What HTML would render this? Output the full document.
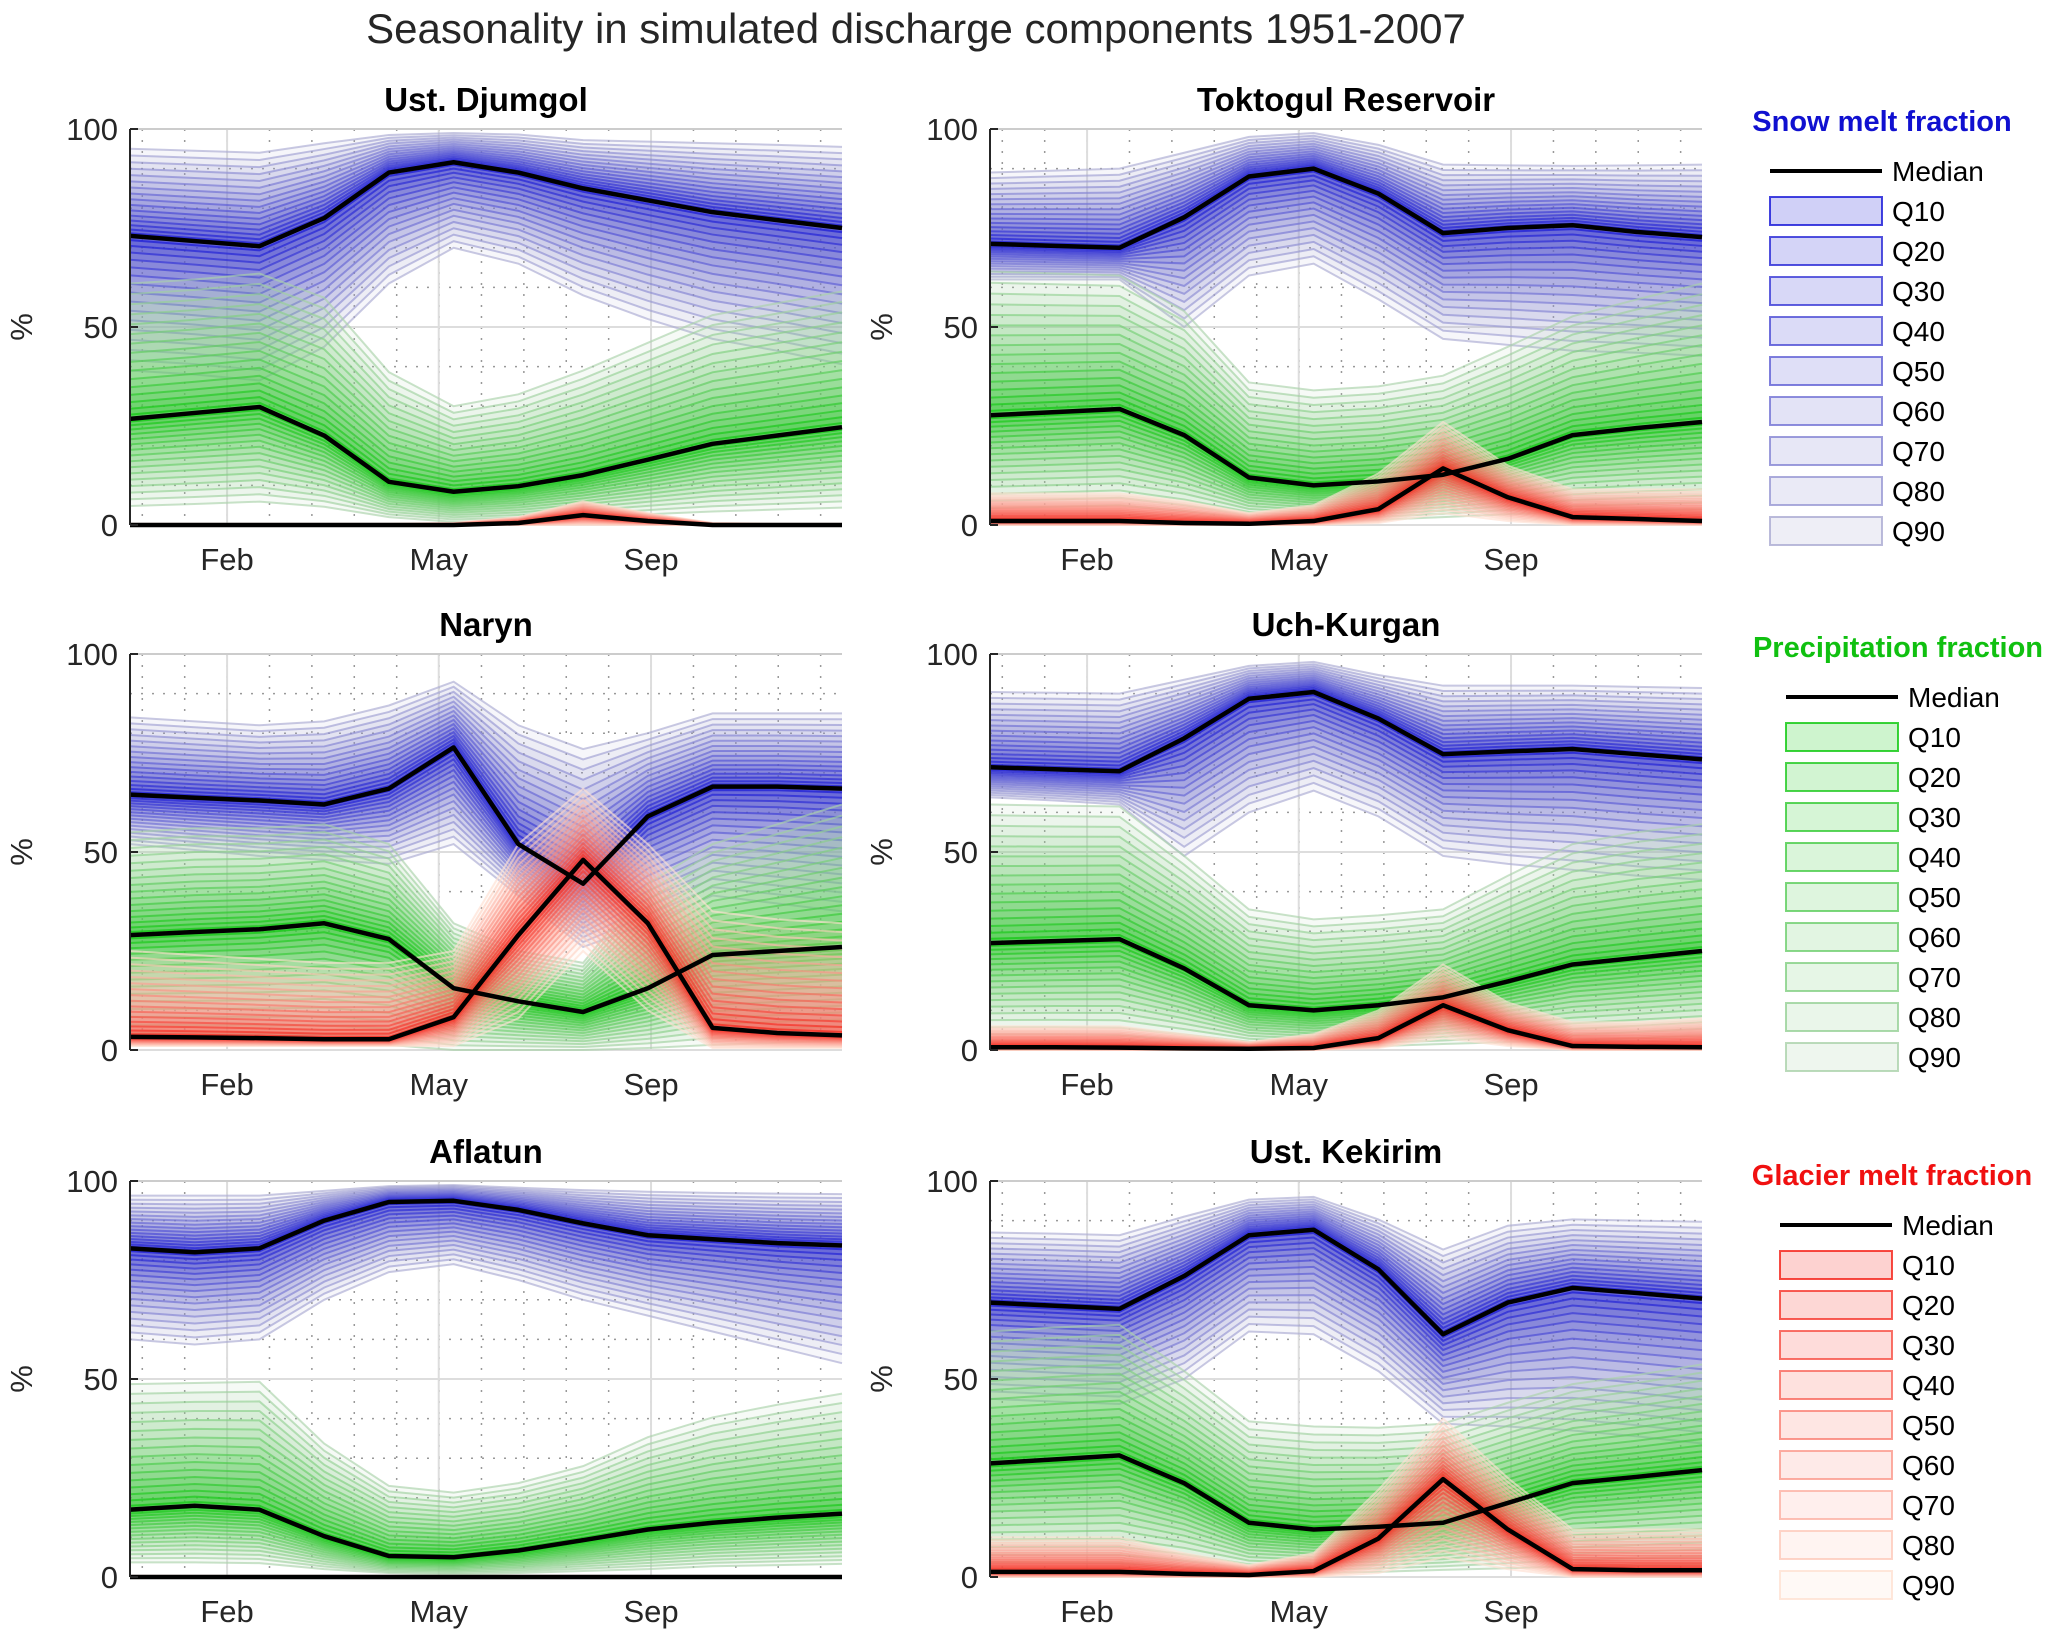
<!DOCTYPE html>
<html><head><meta charset="utf-8"><style>
body{margin:0;background:#fff;}
svg{display:block;font-family:"Liberation Sans",Arial,sans-serif;}
</style></head><body>
<svg id="chart" width="2067" height="1643" viewBox="0 0 2067 1643">
<text x="916" y="43" font-size="42" text-anchor="middle" fill="#262626">Seasonality in simulated discharge components 1951-2007</text>
<g id="panels"></g>
<g id="legends"></g>
</svg>
<script>
const months = [1,2,3,4,5,6,7,8,9,10,11,12];
const tickPositions = [2.5,5.77,9.05];
const tickLabels = ["Feb","May","Sep"];
const yTicks = [0,50,100];
const stationNames = ["Ust. Djumgol","Toktogul Reservoir","Naryn","Uch-Kurgan","Aflatun","Ust. Kekirim"];
const quantileLabels = ["Q10","Q20","Q30","Q40","Q50","Q60","Q70","Q80","Q90"];

// Ust. Djumgol
const djumgolSnowMed=[73,71.7,70.4,77.5,89,91.6,89,85,82,79,77,75];
const djumgolSnowHi=[95,94.5,94,96.4,98.5,99,98.6,97.2,96.8,96.4,96,95.5];
const djumgolSnowLo=[39,38,36.5,45,61,70,66,58,52,47,44,40.6];
const djumgolRainMed=[26.8,28.3,29.8,22.6,10.9,8.4,9.8,12.6,16.5,20.5,22.6,24.7];
const djumgolRainHi=[61,62,63.5,57.4,38.6,30,33,39,46,53,56,59];
const djumgolRainLo=[4.8,5.3,5.9,4.6,2,0.8,1.2,2,2.7,3.4,3.9,4.4];
const djumgolIceMed=[0,0,0,0,0,0,0.5,2.5,1,0,0,0];
const djumgolIceHi=[0.3,0.3,0.3,0.3,0.3,0.5,2,6,3,0.5,0.3,0.3];
const djumgolIceLo=[0,0,0,0,0,0,0,0,0,0,0,0];
// Toktogul
const toktogulSnowMed=[71,70.5,70,77.7,88,90,83.7,73.7,75,75.7,74,72.7];
const toktogulSnowHi=[89,89.5,90,94,98,99,96,91,90.8,90.7,90.8,91];
const toktogulSnowLo=[62,62,62,50,63,66,57,47,45.5,44,43.5,42.7];
const toktogulRainMed=[27.7,28.5,29.3,22.7,12,10,11,12.7,16.7,22.7,24.5,26];
const toktogulRainHi=[64,63.5,63,54,36,34,35,37.7,45,52.7,57,61];
const toktogulRainLo=[4.3,4.6,5,3.5,1.7,1,1.3,2,2.7,3.3,3.7,4];
const toktogulIceMed=[1,1,1,0.5,0.3,1,4,14.3,7,2,1.5,1];
const toktogulIceHi=[8,8,8,6,3,5,13,26,15,9,9,9];
const toktogulIceLo=[0,0,0,0,0,0,0.5,3,1,0,0,0];
// Naryn
const narynSnowMed=[64.5,63.7,63,62,66,76.4,52,42,59,66.5,66.5,66];
const narynSnowHi=[84,83,82,83,87,93,82,76,80,85,85,85];
const narynSnowLo=[52,50.5,49,48,47,52,39,26,32,39,37,35];
const narynRainMed=[29,29.8,30.5,32,28,15.6,12.3,9.6,15.6,24,25,26];
const narynRainHi=[55,56,56,57,52,32,25,22,42,52,57,62];
const narynRainLo=[2.3,2,1.8,1.5,1.3,0,0,0,0.5,1.3,1.8,2.3];
const narynIceMed=[3.3,3.2,3,2.7,2.7,8.3,29,48,32,5.6,4.3,3.7];
const narynIceHi=[25,24,23,22,22,25,52,66,52,35,33,32];
const narynIceLo=[1,1,1,1,1,1,8,25,10,0.5,0.5,0.5];
// Uch-Kurgan
const uchSnowMed=[71.4,70.9,70.4,78.7,88.7,90.4,83.7,74.7,75.4,76,74.7,73.4];
const uchSnowHi=[90.4,90.2,90,93.5,97,98,94.7,92,92,92,91.7,91.4];
const uchSnowLo=[63.8,63,62,49,60,65.5,59,49,47,45.5,44,43];
const uchRainMed=[27,27.5,28,20.6,11.3,10,11.3,13.3,17.3,21.6,23.3,25];
const uchRainHi=[62,61.7,61.5,49,35.5,33,34,35.5,44,52,55,57];
const uchRainLo=[4,4,3.8,2.5,1.3,0.7,1,1.5,2,2.3,3,3.7];
const uchIceMed=[0.7,0.7,0.6,0.4,0.3,0.5,3,11.3,5,1,0.8,0.7];
const uchIceHi=[6,6,6,4,2,4,10,21.6,12,7,7,8];
const uchIceLo=[0,0,0,0,0,0,0.5,3,1,0,0,0];
// Aflatun
const aflatunSnowMed=[83,82,83,90,94.7,95,92.7,89.3,86.3,85.3,84.3,83.7];
const aflatunSnowHi=[96.3,96.3,96.3,97.5,98.7,99,98.3,97.7,97.3,97,96.8,96.7];
const aflatunSnowLo=[60,58.7,60,70,77,79,75,70,66,62,58,54];
const aflatunRainMed=[17,18,17,10.3,5.3,5,6.7,9.3,12,13.7,15,16];
const aflatunRainHi=[48.7,49,49.3,33.7,23,21.3,23.7,28,35.3,40.3,43.5,46.3];
const aflatunRainLo=[3.7,3.7,3.5,2,1,0.7,1,1.5,2,2.7,3,3.3];
const aflatunIceMed=[0,0,0,0,0,0,0,0,0,0,0,0];
const aflatunIceHi=[0.3,0.3,0.3,0.3,0.3,0.3,0.3,0.3,0.3,0.3,0.3,0.3];
const aflatunIceLo=[0,0,0,0,0,0,0,0,0,0,0,0];
// Ust. Kekirim
const kekirimSnowMed=[69.3,68.5,67.7,76,86.3,87.7,77.7,61.3,69.3,73,71.7,70.3];
const kekirimSnowHi=[87,86.7,86.3,91,95.3,96,90.3,82.7,88.7,90.3,90,89.7];
const kekirimSnowLo=[45,44.3,43.7,50,62,61.3,52,38.7,38,37,35.5,33.7];
const kekirimRainMed=[28.7,29.7,30.7,23.7,13.7,12,12.7,13.7,18.7,23.7,25.3,27];
const kekirimRainHi=[62,63,63.7,52,39.3,38,37.7,38.7,44,48.7,51,53.7];
const kekirimRainLo=[3.7,3.6,3.5,2.5,1.3,1,1.3,1.8,2.2,2.7,3,3.3];
const kekirimIceMed=[1.3,1.3,1.3,0.8,0.5,1.5,9.7,24.7,12,2,1.7,1.7];
const kekirimIceHi=[10,10,10,6,3,6,22,40,25,12,12,12];
const kekirimIceLo=[0,0,0,0,0,0,1,5,2,0,0,0];

const stationData = [
 [[djumgolSnowMed,djumgolSnowLo,djumgolSnowHi],[djumgolRainMed,djumgolRainLo,djumgolRainHi],[djumgolIceMed,djumgolIceLo,djumgolIceHi]],
 [[toktogulSnowMed,toktogulSnowLo,toktogulSnowHi],[toktogulRainMed,toktogulRainLo,toktogulRainHi],[toktogulIceMed,toktogulIceLo,toktogulIceHi]],
 [[narynSnowMed,narynSnowLo,narynSnowHi],[narynRainMed,narynRainLo,narynRainHi],[narynIceMed,narynIceLo,narynIceHi]],
 [[uchSnowMed,uchSnowLo,uchSnowHi],[uchRainMed,uchRainLo,uchRainHi],[uchIceMed,uchIceLo,uchIceHi]],
 [[aflatunSnowMed,aflatunSnowLo,aflatunSnowHi],[aflatunRainMed,aflatunRainLo,aflatunRainHi],[aflatunIceMed,aflatunIceLo,aflatunIceHi]],
 [[kekirimSnowMed,kekirimSnowLo,kekirimSnowHi],[kekirimRainMed,kekirimRainLo,kekirimRainHi],[kekirimIceMed,kekirimIceLo,kekirimIceHi]]
];

const NS="http://www.w3.org/2000/svg";
function mk(tag,attrs,parent){const e=document.createElementNS(NS,tag);for(const k in attrs)e.setAttribute(k,attrs[k]);parent.appendChild(e);return e;}
const compNames=["snow-melt","precipitation","glacier-melt"];
const inner=[[20,20,215],[10,200,10],[245,30,20]];
const outer=[[170,170,210],[170,210,170],[255,225,210]];
const colX=[130,990], rowY=[129,654,1181], W=712, H=396;
const panels=document.getElementById('panels');
const NL=16;
stationData.forEach((comps,i)=>{
  const ox=colX[i%2], oy=rowY[Math.floor(i/2)];
  const xs=m=>ox+(m-1)/11*W, ys=v=>oy+H-v/100*H;
  const g=mk('g',{},panels);
  
  
  for(let v=10;v<100;v+=10){ if(v%50) mk('line',{x1:ox,x2:ox+W,y1:ys(v),y2:ys(v),stroke:'#999','stroke-width':1.5,'stroke-dasharray':'2 9'},g);}
  for(let t=tickPositions[0]-0.655*2;t<=12;t+=0.655){ if(t>=1) mk('line',{x1:xs(t),x2:xs(t),y1:oy,y2:oy+H,stroke:'#999','stroke-width':1.5,'stroke-dasharray':'2 9'},g);}
  yTicks.forEach(v=>mk('line',{x1:ox,x2:ox+W,y1:ys(v),y2:ys(v),stroke:'#ddd','stroke-width':2},g));
  tickPositions.forEach(t=>mk('line',{x1:xs(t),x2:xs(t),y1:oy,y2:oy+H,stroke:'#ddd','stroke-width':2},g));
  comps.forEach((c,ci)=>{
    const [med,lo,hi]=c;
    const cg=mk('g',{},g);
    
    
    for(let k=NL;k>=1;k--){
      const f=Math.pow(k/NL,1.25);
      const t=(k-1)/(NL-1);
      const col=inner[ci].map((a,j)=>Math.round(a+(outer[ci][j]-a)*t));
      const rgb='rgb('+col.join(',')+')';
      const up=months.map((m,j)=>[xs(m),ys(med[j]+(hi[j]-med[j])*f)]);
      const dn=months.map((m,j)=>[xs(m),ys(med[j]-(med[j]-lo[j])*f)]);
      const pts=up.concat(dn.slice().reverse()).map(p=>p.join(',')).join(' ');
      const poly=mk('polygon',{points:pts,fill:rgb,'fill-opacity':0.11,stroke:'none'},cg);
      
      
      [up,dn].forEach(L=>mk('polyline',{points:L.map(p=>p.join(',')).join(' '),fill:'none',stroke:rgb,'stroke-opacity':0.65,'stroke-width':2},cg));
    }
  });
  comps.forEach((c,ci)=>{
    const pl=mk('polyline',{points:months.map((m,j)=>xs(m)+','+ys(c[0][j])).join(' '),fill:'none',stroke:'#000','stroke-width':4.5,'stroke-linejoin':'round'},g);
    
    
  });
  mk('line',{x1:ox,x2:ox+W,y1:oy,y2:oy,stroke:'#ccc','stroke-width':2},g);
  mk('line',{x1:ox,x2:ox,y1:oy,y2:oy+H,stroke:'#262626','stroke-width':2},g);
  yTicks.forEach(v=>{
    mk('line',{x1:ox,x2:ox+8,y1:ys(v),y2:ys(v),stroke:'#262626','stroke-width':2},g);
    const tx=mk('text',{x:ox-12,y:ys(v)+11,'font-size':31,'text-anchor':'end',fill:'#262626'},g);
    tx.textContent=v;
    
    
  });
  tickPositions.forEach((t,j)=>{
    const tx=mk('text',{x:xs(t),y:oy+H+45,'font-size':31,'text-anchor':'middle',fill:'#262626'},g);
    tx.textContent=tickLabels[j];
    
    
  });
  const yl=mk('text',{x:0,y:0,'font-size':31,'text-anchor':'middle',fill:'#262626',transform:'translate('+(ox-98)+','+(oy+H/2)+') rotate(-90)'},g);
  yl.textContent='%';
  
  
  const tt=mk('text',{x:ox+W/2,y:oy-18,'font-size':33,'font-weight':'bold','text-anchor':'middle',fill:'#000'},g);
  tt.textContent=stationNames[i];
  
  
});
const legends=document.getElementById('legends');
const legTitles=["Snow melt fraction","Precipitation fraction","Glacier melt fraction"];
const legColors=["#1010d0","#10c010","#f01010"];
const legTop=[121,647,1175], legX=[1770,1786,1780];
legTitles.forEach((t,li)=>{
  const g=mk('g',{},legends);
  
  
  const tt=mk('text',{x:legX[li]+112,y:legTop[li]+10,'font-size':29,'font-weight':'bold','text-anchor':'middle',fill:legColors[li]},g);
  tt.textContent=t;
  
  
  const my=legTop[li]+50;
  const ml=mk('line',{x1:legX[li],x2:legX[li]+112,y1:my,y2:my,stroke:'#000','stroke-width':4},g);
  
  
  const mt=mk('text',{x:legX[li]+122,y:my+10,'font-size':28,fill:'#000'},g);
  mt.textContent='Median';
  
  
  quantileLabels.forEach((q,k)=>{
    const y=my+40*(k+1);
    const tq=k/8;
    const col=inner[li].map((a,j)=>Math.round(a+(outer[li][j]-a)*tq));
    const r=mk('rect',{x:legX[li],y:y-14,width:112,height:28,fill:'rgb('+col.join(',')+')','fill-opacity':0.2,stroke:'rgb('+col.join(',')+')','stroke-width':2,'stroke-opacity':0.8},g);
    
    
    const tx=mk('text',{x:legX[li]+122,y:y+10,'font-size':28,fill:'#000'},g);
    tx.textContent=q;
    
    
  });
});
</script>
</body></html>
